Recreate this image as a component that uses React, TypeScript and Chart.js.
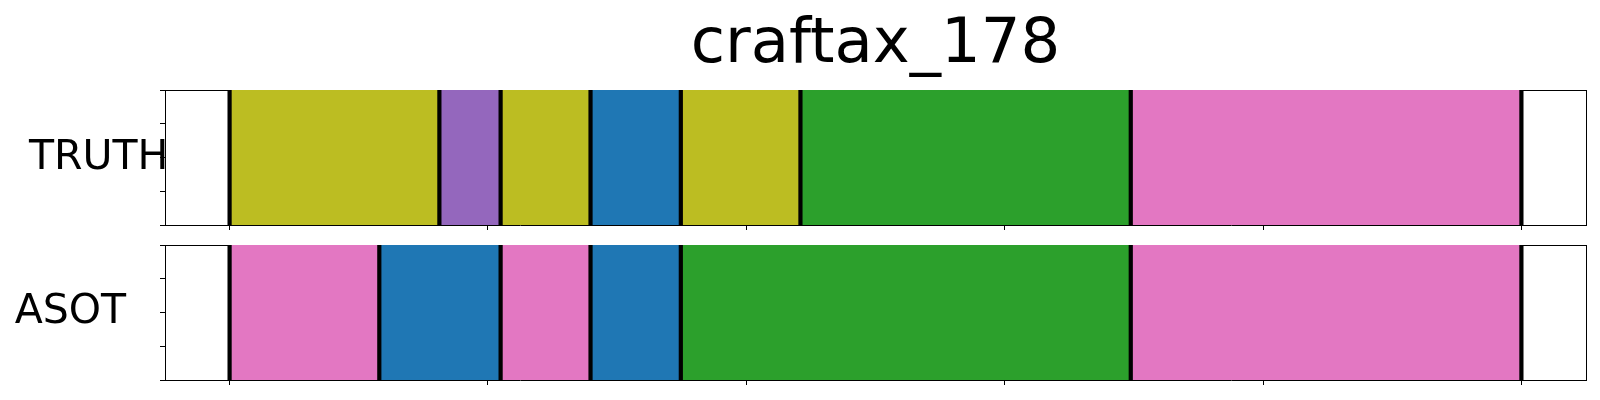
import React, { useEffect, useRef } from "react";
import { Chart, registerables } from "chart.js";

Chart.register(...registerables);

// ---- data ----
const TITLE = "craftax_178";
const X_TICKS = [0, 20, 40, 60, 80, 100];
const Y_TICKS = [0, 0.25, 0.5, 0.75, 1];
const X_MIN = -5;
const X_MAX = 105;

const TRUTH_BOUNDS = [0, 16.24, 20.98, 27.94, 34.93, 44.19, 69.76, 100];
const TRUTH_ACTIONS = ["olive", "purple", "olive", "blue", "olive", "green", "pink"];

const ASOT_BOUNDS = [0, 11.59, 20.98, 27.94, 34.93, 69.76, 100];
const ASOT_ACTIONS = ["pink", "blue", "pink", "blue", "green", "pink"];

const COLORS: Record<string, string> = {
  olive: "#bcbd22",
  purple: "#9467bd",
  blue: "#1f77b4",
  green: "#2ca02c",
  pink: "#e377c2",
};

const FONT = "'DejaVu Sans', 'Liberation Sans', sans-serif";

function buildConfig(bounds: number[], actions: string[], pad: any): any {
  const segs = actions.map((a, i) => ({
    data: [
      { x: bounds[i], y: 1 },
      { x: bounds[i + 1], y: 1 },
    ],
    backgroundColor: COLORS[a],
    borderColor: "rgba(0,0,0,0)",
    borderWidth: 1,
    fill: "origin",
    pointRadius: 0,
    order: 10,
    clip: 0,
  }));
  const lines = bounds.map((b) => ({
    data: [
      { x: b, y: 0 },
      { x: b, y: 1 },
    ],
    borderColor: "#000000",
    borderWidth: 4.2,
    fill: false,
    pointRadius: 0,
    order: 0,
    clip: 0,
  }));
  const axisGrid = {
    display: true,
    drawOnChartArea: false,
    drawTicks: true,
    tickLength: 5,
    color: "#000000",
    lineWidth: 1,
  };
  const frameGrid = {
    display: true,
    drawOnChartArea: false,
    drawTicks: false,
    color: "rgba(0,0,0,0)",
  };
  const border = { display: true, color: "#000000", width: 1 };
  return {
    type: "line",
    data: { datasets: [...segs, ...lines] },
    options: {
      animation: false,
      responsive: false,
      events: [],
      layout: { padding: pad },
      plugins: {
        legend: { display: false },
        tooltip: { enabled: false },
        title: { display: false },
        filler: { drawTime: "beforeDatasetsDraw" },
      },
      scales: {
        x: {
          type: "linear",
          position: "bottom",
          min: X_MIN,
          max: X_MAX,
          bounds: "data",
          afterBuildTicks: (s: any) => {
            s.ticks = X_TICKS.map((v) => ({ value: v }));
          },
          ticks: { display: false },
          grid: axisGrid,
          border,
        },
        y: {
          type: "linear",
          position: "left",
          min: 0,
          max: 1,
          bounds: "data",
          afterBuildTicks: (s: any) => {
            s.ticks = Y_TICKS.map((v) => ({ value: v }));
          },
          ticks: { display: false },
          grid: axisGrid,
          border,
        },
        xTop: {
          type: "linear",
          axis: "x",
          position: "top",
          min: X_MIN,
          max: X_MAX,
          ticks: { display: false },
          grid: frameGrid,
          border,
        },
        yRight: {
          type: "linear",
          axis: "y",
          position: "right",
          min: 0,
          max: 1,
          ticks: { display: false },
          grid: frameGrid,
          border,
        },
      },
    },
  };
}

function Panel(props: { bounds: number[]; actions: string[]; top: number; height: number; pad: any }) {
  const ref = useRef<HTMLCanvasElement>(null);
  useEffect(() => {
    if (!ref.current) return;
    const chart = new Chart(ref.current, buildConfig(props.bounds, props.actions, props.pad));
    return () => chart.destroy();
  }, []);
  return (
    <canvas
      ref={ref}
      width={1600}
      height={props.height}
      style={{ position: "absolute", left: 0, top: props.top, width: 1600, height: props.height }}
    />
  );
}

function Label(props: { text: string; left: number; baseline: number; size: number; center?: boolean }) {
  const top = props.baseline - 0.928 * props.size;
  return (
    <div
      style={{
        position: "absolute",
        left: props.left,
        top,
        fontFamily: FONT,
        fontSize: props.size,
        lineHeight: "normal",
        whiteSpace: "nowrap",
        color: "#000",
        transform: props.center ? "translateX(-50%)" : undefined,
      }}
    >
      {props.text}
    </div>
  );
}

export default function App() {
  return (
    <div
      style={{
        position: "fixed",
        left: 0,
        top: 0,
        width: 1600,
        height: 400,
        background: "#ffffff",
        overflow: "hidden",
      }}
    >
      <Panel
        bounds={TRUTH_BOUNDS}
        actions={TRUTH_ACTIONS}
        top={0}
        height={240}
        pad={{ top: 90, left: 160, right: 14, bottom: 10 }}
      />
      <Panel
        bounds={ASOT_BOUNDS}
        actions={ASOT_ACTIONS}
        top={240}
        height={160}
        pad={{ top: 5, left: 160, right: 14, bottom: 15 }}
      />
      <Label text={TITLE} left={875.5} baseline={62.3} size={62.5} center />
      <Label text="TRUTH" left={29} baseline={169} size={41} />
      <Label text="ASOT" left={14.7} baseline={323.3} size={41} />
    </div>
  );
}
